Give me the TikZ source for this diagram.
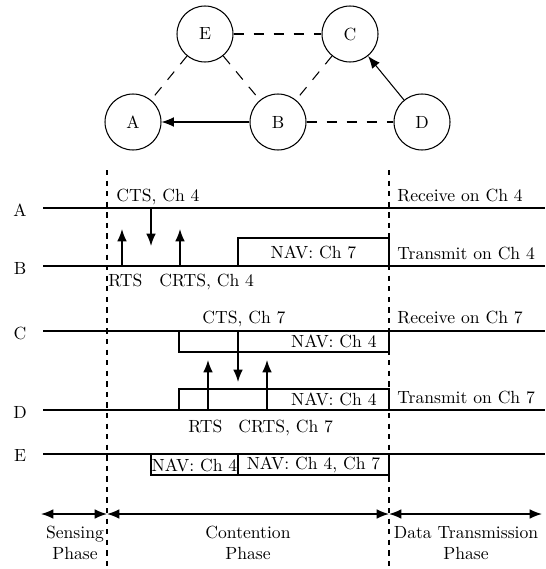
\documentclass[tikz,border=0pt]{standalone}
\usetikzlibrary{arrows.meta}
\begin{document}
\begin{tikzpicture}[x=0.568pt,y=-0.568pt,
  stn/.style={circle,draw,semithick,minimum size=31.8pt,inner sep=0pt},
  dsh/.style={semithick,dash pattern=on 6pt off 5.4pt},
  vdsh/.style={semithick,dash pattern=on 3pt off 3pt},
  arr/.style={semithick,-{Latex[length=7pt,width=5.5pt]}},
  tarr/.style={thick,-{Latex[length=7pt,width=5.5pt]}},
  darr/.style={thick,{Latex[length=7pt,width=5.5pt]}-{Latex[length=7pt,width=5.5pt]}},
  tline/.style={thick},
  navbox/.style={thick},
  lbl/.style={inner sep=0pt,anchor=base west},
  row/.style={inner sep=0pt,anchor=center},
  ctr/.style={inner sep=0pt,anchor=base},
  phase/.style={inner sep=0pt,align=center,anchor=north}]
\useasboundingbox (0,0) rectangle (545,569);
% graph
\node[stn] (A) at (133,122) {A};
\node[stn] (B) at (278,122) {B};
\node[stn] (D) at (422,122) {D};
\node[stn] (E) at (205,34) {E};
\node[stn] (C) at (350,34) {C};
\draw[dsh] (E) -- (A);
\draw[dsh] (E) -- (C);
\draw[dsh] (E) -- (B);
\draw[dsh] (C) -- (B);
\draw[dsh] (B) -- (D);
\draw[arr] (B) -- (A);
\draw[arr] (D) -- (C);
% row labels
\node[row] (lA) at (20,210) {A};
\node[row] (lB) at (20,268) {B};
\node[row] (lC) at (20,333) {C};
\node[row] (lD) at (20,412) {D};
\node[row] (lE) at (20,456) {E};
% time lines
\draw[tline] (43,208) -- (545,208);
\draw[tline] (43,266) -- (545,266);
\draw[tline] (43,331) -- (545,331);
\draw[tline] (43,410) -- (545,410);
\draw[tline] (43,454) -- (545,454);
% phase separators
\draw[vdsh] (107,170) -- (107,569);
\draw[vdsh] (389,170) -- (389,569);
% A-B exchange
\draw[tarr] (122,266) -- (122,229);
\draw[tarr] (151,208) -- (151,246);
\draw[tarr] (180,266) -- (180,229);
\node[lbl] (cts4) at (116,201) {CTS, Ch 4};
\node[lbl] (rts4) at (108,286) {RTS};
\node[lbl] (crts4) at (159,286) {CRTS, Ch 4};
\draw[navbox] (238,266) -- (238,238) -- (389,238) -- (389,266);
\node[inner sep=0pt] (navB) at (313.5,252) {NAV: Ch 7};
\node[lbl] (rxA) at (397,201) {Receive on Ch 4};
\node[lbl] (txB) at (397,259) {Transmit on Ch 4};
% C-D exchange
\draw[navbox] (179,331) rectangle (389,352);
\node[inner sep=0pt,anchor=base east] (navC) at (377,347.5) {NAV: Ch 4};
\draw[navbox] (179,410) -- (179,389) -- (389,389) -- (389,410);
\node[inner sep=0pt,anchor=base east] (navD) at (377,405.5) {NAV: Ch 4};
\draw[tarr] (238,331) -- (238,382);
\draw[tarr] (208,410) -- (208,360);
\draw[tarr] (267,410) -- (267,360);
\node[lbl] (cts7) at (202,323) {CTS, Ch 7};
\node[lbl] (rts7) at (188,432) {RTS};
\node[lbl] (crts7) at (238,432) {CRTS, Ch 7};
\node[lbl] (rxC) at (397,323) {Receive on Ch 7};
\node[lbl] (txD) at (397,403) {Transmit on Ch 7};
% E
\draw[navbox] (151,454) rectangle (238,475);
\draw[navbox] (238,454) rectangle (389,475);
\node[inner sep=0pt] (navE1) at (194.5,465) {NAV: Ch 4};
\node[inner sep=0pt] (navE2) at (313.5,465) {NAV: Ch 4, Ch 7};
% phases
\coordinate (p0) at (41,514);
\coordinate (p1) at (107,514);
\coordinate (p2) at (389,514);
\coordinate (p3) at (542,514);
\draw[darr] (p0) -- (p1);
\draw[darr] (p1) -- (p2);
\draw[darr] (p2) -- (p3);
\node[phase] (ph1) at (75,526) {Sensing\\Phase};
\node[phase] (ph2) at (248,526) {Contention\\Phase};
\node[phase] (ph3) at (466,526) {Data Transmission\\Phase};
\end{tikzpicture}
\end{document}
